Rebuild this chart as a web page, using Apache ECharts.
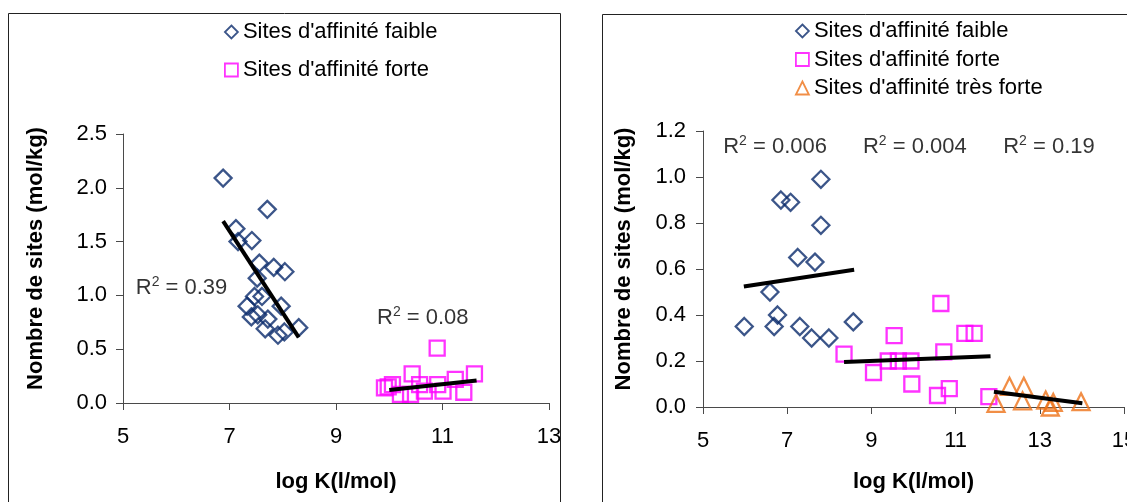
<!DOCTYPE html>
<html><head><meta charset="utf-8">
<script src="https://cdn.jsdelivr.net/npm/echarts@6/dist/echarts.min.js"></script>
<style>html,body{margin:0;padding:0;background:#fff;}#c{width:1127px;height:502px;}</style>
</head><body><div id="c"></div><script>
// ---------- DATA ----------
const nameFaible = "Sites d'affinité faible";
const nameForte = "Sites d'affinité forte";
const nameTresForte = "Sites d'affinité très forte";

const xTickValues = [5, 7, 9, 11, 13];
const xTickValuesRight = [5, 7, 9, 11, 13, 15];

// Left panel
const leftFaibleX = [6.88, 7.71, 7.12, 7.16, 7.42, 7.56, 7.83, 8.04, 7.52, 7.47, 7.61, 7.33, 7.41, 7.53, 7.72, 7.97, 7.67, 7.91, 8.03, 8.30];
const leftFaibleY = [2.09, 1.80, 1.62, 1.50, 1.51, 1.30, 1.26, 1.22, 1.16, 0.99, 0.99, 0.90, 0.80, 0.82, 0.78, 0.90, 0.69, 0.63, 0.66, 0.70];
const leftForteX = [10.90, 10.43, 11.60, 11.24, 10.06, 9.98, 10.57, 10.91, 10.21, 10.40, 10.66, 11.01, 11.40, 9.91];
const leftForteY = [0.51, 0.27, 0.27, 0.22, 0.17, 0.15, 0.17, 0.17, 0.08, 0.08, 0.11, 0.11, 0.10, 0.14];
const leftTrendFaibleX = [6.88, 8.30];
const leftTrendFaibleY = [1.69, 0.61];
const leftTrendForteX = [10.0, 11.64];
const leftTrendForteY = [0.12, 0.21];
const leftR2Text = ['0.39', '0.08'];
const leftR2X = [5.24, 9.77];
const leftR2Y = [1.07, 0.79];

// Right panel
const rightFaibleX = [7.80, 6.85, 7.08, 7.80, 7.25, 7.66, 6.59, 6.77, 5.98, 6.69, 7.30, 7.58, 7.99, 8.57];
const rightFaibleY = [0.99, 0.90, 0.89, 0.79, 0.65, 0.63, 0.50, 0.40, 0.35, 0.35, 0.35, 0.30, 0.30, 0.37];
const rightForteX = [10.65, 11.22, 11.44, 9.54, 8.35, 9.40, 9.64, 9.94, 10.72, 9.05, 9.96, 10.85, 10.57, 11.79];
const rightForteY = [0.45, 0.32, 0.32, 0.31, 0.23, 0.20, 0.20, 0.20, 0.24, 0.15, 0.10, 0.08, 0.05, 0.045];
const rightTresForteX = [12.28, 12.62, 11.96, 12.59, 13.14, 13.32, 13.25, 13.98];
const rightTresForteY = [0.09, 0.09, 0.016, 0.027, 0.03, 0.02, 0.0, 0.023];
const rightTrendFaibleX = [5.97, 8.59];
const rightTrendFaibleY = [0.524, 0.597];
const rightTrendForteX = [8.35, 11.83];
const rightTrendForteY = [0.196, 0.221];
const rightTrendTresForteX = [11.91, 14.01];
const rightTrendTresForteY = [0.066, 0.016];
const rightR2Text = ['0.006', '0.004', '0.19'];
const rightR2X = [5.48, 8.80, 12.13];
const rightR2Y = [1.13, 1.13, 1.13];

// ---------- STYLE ----------
const NAVY = '#0a2a6b';
const PINK = '#ff00ff';
const ORANGE = '#ee7218';
const FONT = 'Liberation Sans, Arial, sans-serif';
const AXIS_COLOR = '#4a4a4a';

function zip(xs, ys) { return xs.map((x, i) => [x, ys[i]]); }

function markerSeries(name, xs, ys, symbol, size, color, idx) {
  return {
    type: 'scatter', name: name, xAxisIndex: idx, yAxisIndex: idx,
    data: zip(xs, ys), symbol: symbol, symbolSize: size,
    itemStyle: { color: 'rgba(255,255,255,0)', borderColor: color, borderWidth: 2.3 },
    z: 2, silent: true
  };
}
function trendSeries(name, xs, ys, idx) {
  return {
    type: 'line', name: name, xAxisIndex: idx, yAxisIndex: idx,
    data: zip(xs, ys), showSymbol: false, symbol: 'none',
    lineStyle: { color: '#000', width: 4 }, z: 5, silent: true
  };
}
function r2Series(name, xs, ys, texts, idx) {
  return {
    type: 'scatter', name: name, xAxisIndex: idx, yAxisIndex: idx,
    symbolSize: 0, silent: true, z: 6,
    data: xs.map((x, i) => ({ value: [x, ys[i]], txt: texts[i] })),
    label: {
      show: true, position: 'right', distance: 0,
      formatter: p => '{a|R}{s|2}{a| = ' + p.data.txt + '}',
      rich: {
        a: { fontSize: 22, color: '#000', fontFamily: FONT },
        s: { fontSize: 14, color: '#000', fontFamily: FONT, padding: [0, 0, 12, 0] }
      }
    }
  };
}
function xAxisDef(idx, min, max, ticks, nameGap) {
  return {
    gridIndex: idx, type: 'value', min: min, max: max,
    name: 'log K(l/mol)', nameLocation: 'middle', nameGap: nameGap,
    nameTextStyle: { fontSize: 22, fontWeight: 'bold', color: '#000', fontFamily: FONT },
    axisLine: { show: true, lineStyle: { color: AXIS_COLOR, width: 1 } },
    axisTick: { show: true, length: 7, customValues: ticks, lineStyle: { color: AXIS_COLOR } },
    axisLabel: { customValues: ticks, margin: 23, fontSize: 22, color: '#000', fontFamily: FONT, hideOverlap: false },
    splitLine: { show: false }
  };
}
function yAxisDef(idx, max, interval, nameGap, labelMargin) {
  return {
    gridIndex: idx, type: 'value', min: 0, max: max, interval: interval,
    name: 'Nombre de sites (mol/kg)', nameLocation: 'middle', nameGap: nameGap, nameRotate: 90,
    nameTextStyle: { fontSize: 22, fontWeight: 'bold', color: '#000', fontFamily: FONT, padding: [0, 0, 0, 20] },
    axisLine: { show: true, lineStyle: { color: AXIS_COLOR, width: 1 } },
    axisTick: { show: true, length: 7, lineStyle: { color: AXIS_COLOR } },
    axisLabel: { margin: labelMargin, fontSize: 22, color: '#000', fontFamily: FONT, formatter: v => v.toFixed(1) },
    splitLine: { show: false }
  };
}
function legendItem(name, icon, color) {
  return { name: name, icon: icon, itemStyle: { color: 'rgba(255,255,255,0)', borderColor: color, borderWidth: 1.8 } };
}

const chart = echarts.init(document.getElementById('c'), null, { renderer: 'canvas' });
chart.setOption({
  animation: false,
  backgroundColor: '#fff',
  textStyle: { fontFamily: FONT },
  graphic: [
    { type: 'rect', shape: { x: 8.5, y: 13.5, width: 552, height: 520 }, style: { fill: 'none', stroke: '#222', lineWidth: 1 }, silent: true },
    { type: 'rect', shape: { x: 602.5, y: 14.5, width: 600, height: 520 }, style: { fill: 'none', stroke: '#222', lineWidth: 1 }, silent: true }
  ],
  legend: [
    {
      orient: 'vertical', left: 219, top: 16, itemWidth: 13, itemHeight: 13, itemGap: 16,
      selectedMode: false,
      textStyle: { fontSize: 22, color: '#000', fontFamily: FONT },
      data: [legendItem(nameFaible, 'diamond', NAVY), legendItem(nameForte, 'rect', PINK)]
    },
    {
      orient: 'vertical', left: 790, top: 15, itemWidth: 13, itemHeight: 13, itemGap: 6.5,
      selectedMode: false,
      textStyle: { fontSize: 22, color: '#000', fontFamily: FONT },
      data: [legendItem(nameFaible, 'diamond', NAVY), legendItem(nameForte, 'rect', PINK), legendItem(nameTresForte, 'triangle', ORANGE)]
    }
  ],
  grid: [
    { left: 123, top: 134, width: 426, height: 269, containLabel: false, outerBoundsMode: 'none' },
    { left: 703, top: 131, width: 421, height: 276, containLabel: false, outerBoundsMode: 'none' }
  ],
  xAxis: [xAxisDef(0, 5, 13, xTickValues, 68), xAxisDef(1, 5, 15, xTickValuesRight, 64)],
  yAxis: [yAxisDef(0, 2.5, 0.5, 76, 16), yAxisDef(1, 1.2, 0.2, 68, 17)],
  series: [
    markerSeries(nameFaible, leftFaibleX, leftFaibleY, 'diamond', 17, NAVY, 0),
    markerSeries(nameForte, leftForteX, leftForteY, 'rect', 15, PINK, 0),
    trendSeries('trend-left-faible', leftTrendFaibleX, leftTrendFaibleY, 0),
    trendSeries('trend-left-forte', leftTrendForteX, leftTrendForteY, 0),
    r2Series('r2-left', leftR2X, leftR2Y, leftR2Text, 0),
    markerSeries(nameFaible, rightFaibleX, rightFaibleY, 'diamond', 17, NAVY, 1),
    markerSeries(nameForte, rightForteX, rightForteY, 'rect', 15, PINK, 1),
    markerSeries(nameTresForte, rightTresForteX, rightTresForteY, 'triangle', 17, ORANGE, 1),
    trendSeries('trend-right-faible', rightTrendFaibleX, rightTrendFaibleY, 1),
    trendSeries('trend-right-forte', rightTrendForteX, rightTrendForteY, 1),
    trendSeries('trend-right-tresforte', rightTrendTresForteX, rightTrendTresForteY, 1),
    r2Series('r2-right', rightR2X, rightR2Y, rightR2Text, 1)
  ]
});
</script></body></html>
